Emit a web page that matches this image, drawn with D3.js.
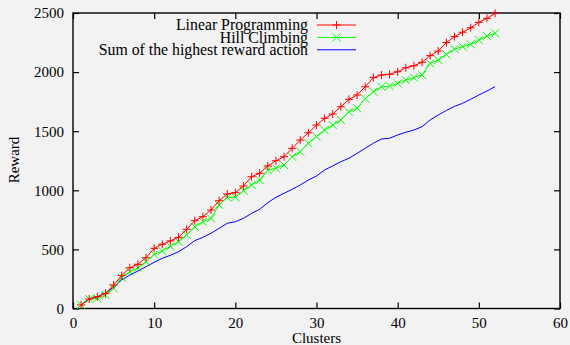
<!DOCTYPE html>
<meta charset="utf-8">
<style>

body { margin: 0; background: #f2f2f2; }

svg { font-family: "Liberation Serif", "Times New Roman", serif; }

.axis text { font-size: 15px; fill: #000; font-family: "Liberation Serif", "Times New Roman", serif; }
.axis line, .axis path { stroke: #000; stroke-width: 1.2px; }

.series { fill: none; stroke-width: 1px; }

</style>
<svg width="570" height="345"></svg>
<script src="https://d3js.org/d3.v7.min.js"></script>
<script>

var clusters = d3.range(1, 53);

var linearProgramming = [30, 80, 100, 128, 199, 278, 345, 374, 430, 509,
  543, 572, 602, 670, 743, 777, 833, 912, 969, 980,
  1036, 1115, 1144, 1206, 1250, 1284, 1355, 1425, 1487, 1552,
  1609, 1645, 1707, 1770, 1806, 1876, 1953, 1975, 1981, 2003,
  2037, 2054, 2083, 2139, 2178, 2250, 2300, 2337, 2375, 2421,
  2455, 2497];

var hillClimbing = [30, 80, 86, 114, 171, 261, 311, 345, 396, 458,
  486, 526, 565, 622, 692, 734, 763, 876, 941, 941,
  997, 1045, 1087, 1170, 1186, 1214, 1284, 1327, 1398, 1454,
  1510, 1552, 1595, 1665, 1694, 1775, 1834, 1876, 1882, 1905,
  1933, 1953, 1975, 2074, 2102, 2150, 2195, 2215, 2235, 2271,
  2305, 2328];

var highestAction = [30, 80, 100, 128, 182, 241, 283, 317, 354, 391,
  425, 450, 480, 523, 574, 602, 636, 678, 721, 734,
  763, 805, 839, 895, 941, 975, 1008, 1045, 1087, 1121,
  1172, 1206, 1242, 1271, 1313, 1355, 1398, 1434, 1440, 1468,
  1491, 1510, 1538, 1595, 1637, 1675, 1710, 1736, 1770, 1806,
  1840, 1877];

var xTicks = [0, 10, 20, 30, 40, 50, 60];
var yTicks = [0, 500, 1000, 1500, 2000, 2500];

var series = [
  {name: "Linear Programming", values: linearProgramming, color: "#ff0000", mark: "plus"},
  {name: "Hill Climbing", values: hillClimbing, color: "#00ff00", mark: "cross"},
  {name: "Sum of the highest reward action", values: highestAction, color: "#0000ff", mark: null}
];

var svg = d3.select("svg"),
    plotLeft = 73, plotRight = 560, plotTop = 13, plotBottom = 308.5;

var x = d3.scaleLinear().domain([0, 60]).range([plotLeft, plotRight]);
var y = d3.scaleLinear().domain([0, 2500]).range([plotBottom, plotTop]);

// frame
svg.append("rect")
    .attr("x", plotLeft).attr("y", plotTop)
    .attr("width", plotRight - plotLeft).attr("height", plotBottom - plotTop)
    .attr("fill", "none").attr("stroke", "#000").attr("stroke-width", 1.4);

// axes, ticks inward, mirrored on top and right
svg.append("g").attr("class", "axis")
    .attr("transform", "translate(0," + plotBottom + ")")
    .call(d3.axisBottom(x).tickValues(xTicks).tickSizeInner(-6).tickSizeOuter(0).tickPadding(9).tickFormat(d3.format("d")))
    .call(function(g) { g.select(".domain").remove(); });

svg.append("g").attr("class", "axis")
    .attr("transform", "translate(" + plotLeft + ",0)")
    .call(d3.axisLeft(y).tickValues(yTicks).tickSizeInner(-6).tickSizeOuter(0).tickPadding(9).tickFormat(d3.format("d")))
    .call(function(g) { g.select(".domain").remove(); });

svg.append("g").attr("class", "axis")
    .attr("transform", "translate(0," + plotTop + ")")
    .call(d3.axisTop(x).tickValues(xTicks).tickSizeInner(-6).tickSizeOuter(0).tickFormat(""))
    .call(function(g) { g.select(".domain").remove(); });

svg.append("g").attr("class", "axis")
    .attr("transform", "translate(" + plotRight + ",0)")
    .call(d3.axisRight(y).tickValues(yTicks).tickSizeInner(-6).tickSizeOuter(0).tickFormat(""))
    .call(function(g) { g.select(".domain").remove(); });

// axis titles
svg.append("text")
    .attr("x", (plotLeft + plotRight) / 2).attr("y", 343)
    .attr("text-anchor", "middle").attr("font-size", 15)
    .text("Clusters");

svg.append("text")
    .attr("transform", "translate(19,160) rotate(-90)")
    .attr("text-anchor", "middle").attr("font-size", 15)
    .text("Reward");

var line = d3.line()
    .x(function(d, i) { return x(clusters[i]); })
    .y(function(d) { return y(d); });

function markPath(kind, cx, cy, s) {
  if (kind === "plus")
    return "M" + (cx - s) + "," + cy + "H" + (cx + s) + "M" + cx + "," + (cy - s) + "V" + (cy + s);
  return "M" + (cx - s) + "," + (cy - s) + "L" + (cx + s) + "," + (cy + s) +
         "M" + (cx - s) + "," + (cy + s) + "L" + (cx + s) + "," + (cy - s);
}

// draw blue first, then green, then red on top
series.slice().reverse().forEach(function(s) {
  svg.append("path")
      .attr("class", "series")
      .attr("stroke", s.color)
      .attr("d", line(s.values));

  if (s.mark) {
    svg.append("g").selectAll("path")
      .data(s.values)
      .enter().append("path")
        .attr("fill", "none")
        .attr("stroke", s.color)
        .attr("stroke-width", 1)
        .attr("d", function(d, i) { return markPath(s.mark, x(clusters[i]), y(d), 4); });
  }
});

// legend
var legend = svg.append("g").selectAll("g")
    .data(series)
    .enter().append("g")
      .attr("transform", function(d, i) { return "translate(0," + (25 + i * 12.4) + ")"; });

legend.append("text")
    .attr("x", 308).attr("dy", "0.33em")
    .attr("text-anchor", "end").attr("font-size", 15.8)
    .text(function(d) { return d.name; });

legend.append("line")
    .attr("x1", 317).attr("x2", 356)
    .attr("stroke", function(d) { return d.color; })
    .attr("stroke-width", 1);

legend.filter(function(d) { return d.mark; }).append("path")
    .attr("fill", "none")
    .attr("stroke", function(d) { return d.color; })
    .attr("d", function(d) { return markPath(d.mark, 336.5, 0, 4); });

</script>
